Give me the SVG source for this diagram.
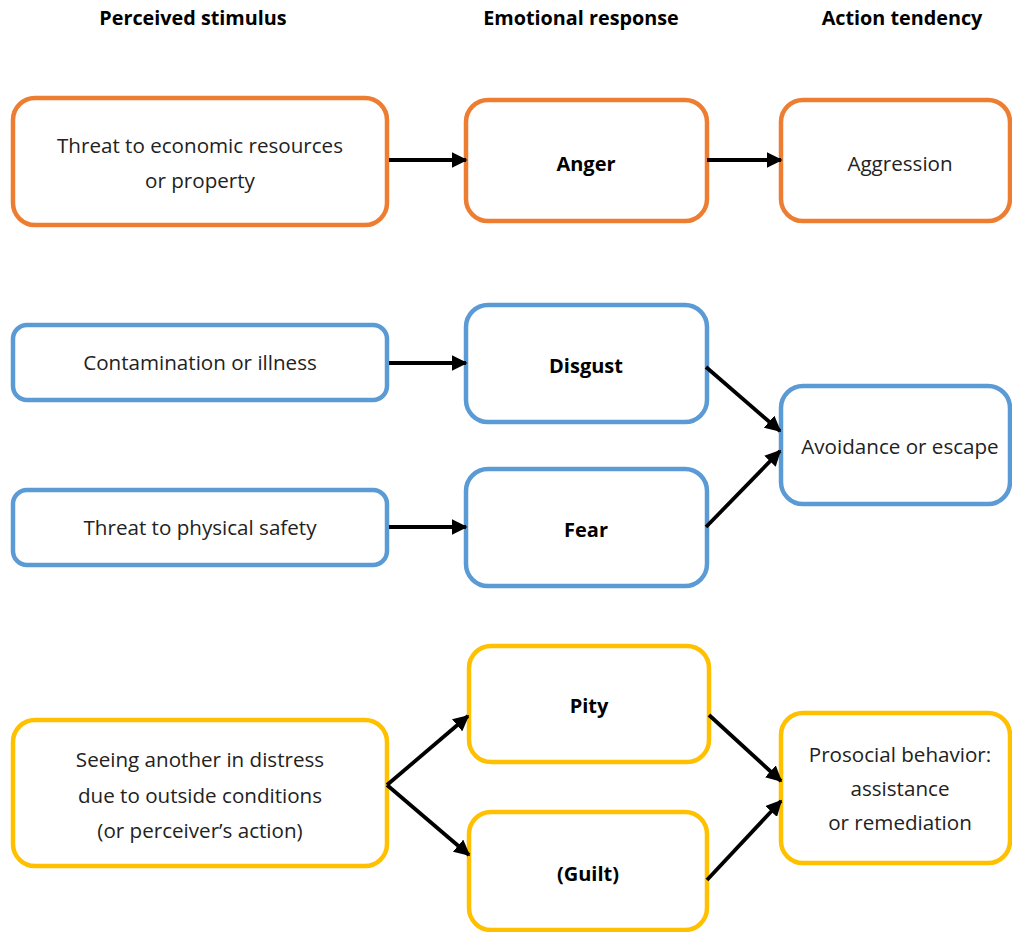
<svg xmlns="http://www.w3.org/2000/svg" width="1012" height="932" viewBox="0 0 1012 932">
<style>
.hdr{font-family:"Open Sans","Liberation Sans",sans-serif;font-size:19.8px;font-weight:bold;fill:#000;text-anchor:middle}
.t{font-family:"Open Sans","Liberation Sans",sans-serif;font-size:20.6px;fill:#222;text-anchor:middle}
.b{font-weight:bold;fill:#000;font-size:20px}
.o{fill:#fff;stroke:#ED7D31;stroke-width:4.5}
.bl{fill:#fff;stroke:#5B9BD5;stroke-width:4.5}
.y{fill:#fff;stroke:#FFC000;stroke-width:4.5}
.c{stroke:#000;stroke-width:3.8;fill:none;marker-end:url(#ah)}
</style>
<defs>
<marker id="ah" viewBox="0 0 10 10" refX="9" refY="5" markerWidth="4.2" markerHeight="4.2" orient="auto" markerUnits="strokeWidth">
<path d="M0,0 L10,5 L0,10 z" fill="#000"/>
</marker>
</defs>
<rect width="1012" height="932" fill="#fff"/>
<g id="headers">
<text class="hdr" x="193" y="25">Perceived stimulus</text>
<text class="hdr" x="581" y="25">Emotional response</text>
<text class="hdr" x="902" y="25">Action tendency</text>
</g>
<g id="n-threat-econ"><rect class="o" x="13" y="98" width="374" height="127" rx="22"/><text class="t" x="200" y="153">Threat to economic resources</text><text class="t" x="200" y="188">or property</text></g>
<g id="n-anger"><rect class="o" x="466" y="100" width="241" height="121" rx="22"/><text class="t b" x="586" y="171">Anger</text></g>
<g id="n-aggression"><rect class="o" x="781" y="100" width="229" height="121" rx="22"/><text class="t" x="900" y="171">Aggression</text></g>
<g id="n-contamination"><rect class="bl" x="13" y="325" width="374" height="75" rx="14"/><text class="t" x="200" y="370">Contamination or illness</text></g>
<g id="n-disgust"><rect class="bl" x="466" y="305" width="241" height="117" rx="22"/><text class="t b" x="586" y="373">Disgust</text></g>
<g id="n-safety"><rect class="bl" x="13" y="490" width="374" height="75" rx="14"/><text class="t" x="200" y="535">Threat to physical safety</text></g>
<g id="n-fear"><rect class="bl" x="466" y="469" width="241" height="117" rx="22"/><text class="t b" x="586" y="537">Fear</text></g>
<g id="n-avoidance"><rect class="bl" x="781" y="386" width="229" height="118" rx="22"/><text class="t" x="900" y="454">Avoidance or escape</text></g>
<g id="n-seeing"><rect class="y" x="13" y="720" width="374" height="146" rx="22"/><text class="t" x="200" y="767">Seeing another in distress</text><text class="t" x="200" y="803">due to outside conditions</text><text class="t" x="200" y="838">(or perceiver’s action)</text></g>
<g id="n-pity"><rect class="y" x="469" y="646" width="240" height="116" rx="22"/><text class="t b" x="589" y="713">Pity</text></g>
<g id="n-guilt"><rect class="y" x="469" y="812" width="238" height="118" rx="22"/><text class="t b" x="588" y="881">(Guilt)</text></g>
<g id="n-prosocial"><rect class="y" x="781" y="713" width="229" height="150" rx="22"/><text class="t" x="900" y="762">Prosocial behavior:</text><text class="t" x="900" y="796">assistance</text><text class="t" x="900" y="830">or remediation</text></g>
<g id="connectors">
<line class="c" x1="389" y1="160" x2="466" y2="160"/>
<line class="c" x1="707" y1="160" x2="781" y2="160"/>
<line class="c" x1="389" y1="363" x2="466" y2="363"/>
<line class="c" x1="389" y1="527" x2="466" y2="527"/>
<line class="c" x1="706" y1="367" x2="780" y2="431"/>
<line class="c" x1="706" y1="527" x2="780" y2="451"/>
<line class="c" x1="387" y1="785" x2="468" y2="716"/>
<line class="c" x1="387" y1="785" x2="469" y2="855"/>
<line class="c" x1="709" y1="715" x2="781" y2="781"/>
<line class="c" x1="707" y1="880" x2="781" y2="801"/>
</g>
</svg>
